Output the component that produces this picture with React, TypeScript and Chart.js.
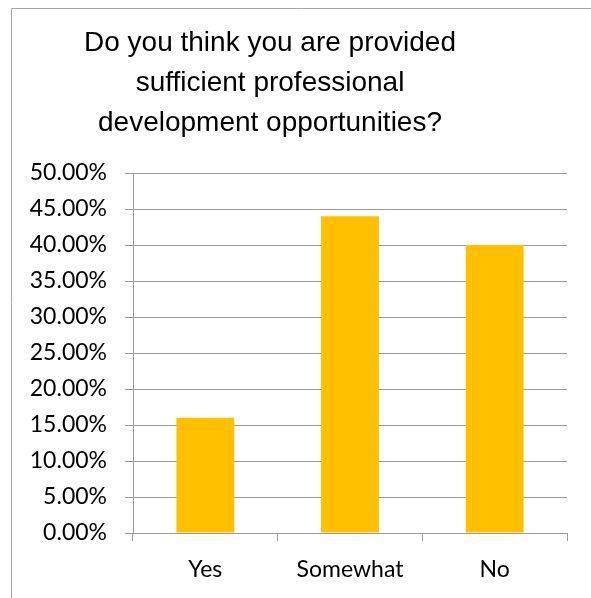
import React, { useEffect, useRef } from "react";
import { Chart, registerables } from "chart.js";

Chart.register(...registerables);

const categories: string[] = ["Yes", "Somewhat", "No"];
const values: number[] = [16, 44, 40];
const titleLines: string[] = [
  "Do you think you are provided",
  "sufficient professional",
  "development opportunities?",
];
const yMin = 0;
const yMax = 50;
const yStep = 5;

const GRID = "#9a9a9a";

const frame = {
  id: "frame",
  beforeDraw(chart: any) {
    const ctx = chart.ctx;
    ctx.save();
    ctx.fillStyle = "#ffffff";
    ctx.fillRect(0, 0, chart.width, chart.height);
    ctx.strokeStyle = "#a6a6a6";
    ctx.lineWidth = 1;
    ctx.beginPath();
    ctx.moveTo(11.5, chart.height);
    ctx.lineTo(11.5, 8.5);
    ctx.lineTo(chart.width, 8.5);
    ctx.stroke();
    ctx.fillStyle = "#000000";
    ctx.font = "28px 'Liberation Sans', Arial, sans-serif";
    ctx.textAlign = "center";
    ctx.textBaseline = "middle";
    titleLines.forEach((line, i) => {
      ctx.fillText(line, 270, 43 + i * 40);
    });
    ctx.restore();
  },
};

export default function App() {
  const ref = useRef<HTMLCanvasElement>(null);
  useEffect(() => {
    document.body.style.margin = "0";
    const chart = new Chart(ref.current as HTMLCanvasElement, {
      type: "bar",
      data: {
        labels: categories,
        datasets: [
          {
            data: values,
            backgroundColor: "#FFC000",
            borderWidth: 0,
            barPercentage: 0.4,
            categoryPercentage: 1,
          },
        ],
      },
      options: {
        responsive: false,
        animation: false,
        layout: { padding: { left: 0, right: 24, top: 173, bottom: 0 } },
        plugins: {
          legend: { display: false },
          tooltip: { enabled: false },
          title: { display: false },
        },
        scales: {
          x: {
            grid: {
              offset: true,
              drawOnChartArea: false,
              drawTicks: true,
              tickLength: 8,
              color: GRID,
            },
            border: { display: true, color: GRID },
            ticks: {
              color: "#000000",
              font: { family: "Lato, sans-serif", size: 23 },
              padding: 15,
              maxRotation: 0,
            },
            afterFit: (s: any) => {
              s.height = 65;
            },
          },
          y: {
            min: yMin,
            max: yMax,
            grid: { color: GRID, tickLength: 8, drawTicks: true },
            border: { display: true, color: GRID },
            ticks: {
              stepSize: yStep,
              color: "#000000",
              font: { family: "Lato, sans-serif", size: 23 },
              padding: 18,
              callback: (v: any) => Number(v).toFixed(2) + "%",
            },
            afterFit: (s: any) => {
              s.width = 133;
            },
          },
        },
      },
      plugins: [frame],
    });
    return () => chart.destroy();
  }, []);
  return <canvas ref={ref} width={591} height={598} style={{ display: "block" }} />;
}
